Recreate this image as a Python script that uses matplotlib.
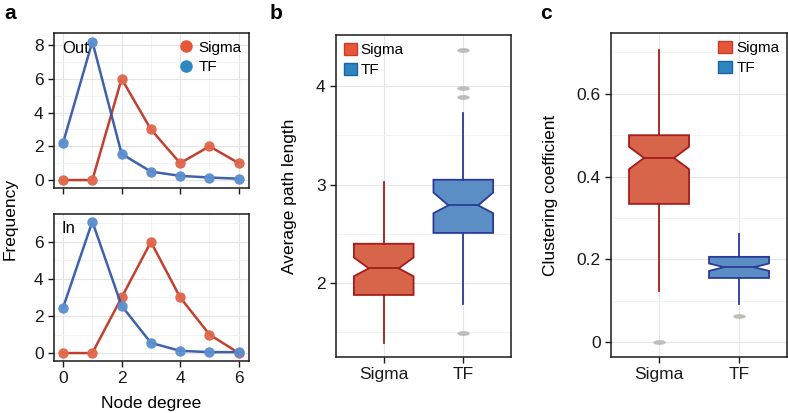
import numpy as np
import matplotlib
matplotlib.use("Agg")
import matplotlib.pyplot as plt
from matplotlib.lines import Line2D
from matplotlib.patches import Patch
from matplotlib.path import Path

# panel a: node degree distributions
degree = [0, 1, 2, 3, 4, 5, 6]
out_sigma = [0, 0, 6, 3, 1, 2, 1]
out_tf = [2.2, 8.2, 1.55, 0.5, 0.25, 0.15, 0.08]
in_sigma = [0, 0, 3, 6, 3, 1, 0]
in_tf = [2.45, 7.1, 2.55, 0.55, 0.12, 0.05, 0.05]

# panels b, c: box summaries (whislo, q1, cilo, med, cihi, q3, whishi, fliers)
groups = ["Sigma", "TF"]
path_sigma = dict(whislo=1.39, q1=1.88, cilo=2.07, med=2.15, cihi=2.26, q3=2.40, whishi=3.03, fliers=[])
path_tf = dict(whislo=1.79, q1=2.51, cilo=2.71, med=2.79, cihi=2.92, q3=3.05, whishi=3.73,
               fliers=[4.37, 3.98, 3.89, 1.49])
clus_sigma = dict(whislo=0.123, q1=0.334, cilo=0.418, med=0.445, cihi=0.472, q3=0.50, whishi=0.706,
                  fliers=[0.0])
clus_tf = dict(whislo=0.092, q1=0.155, cilo=0.172, med=0.181, cihi=0.19, q3=0.206, whishi=0.261,
               fliers=[0.063])

SIG_LINE, SIG_MK = "#bf3626", "#e0674c"
TF_LINE, TF_MK = "#3559a8", "#5b8fd0"
SIG_FILL, SIG_EDGE = "#d6654a", "#a61b1b"
TF_FILL, TF_EDGE = "#5b8ec4", "#2a3a98"

plt.rcParams["font.family"] = ["Liberation Sans", "DejaVu Sans"]
fig = plt.figure(figsize=(7.88, 4.13), dpi=100)

ax_out = fig.add_axes([0.0685, 0.5448, 0.2475, 0.3753])
ax_in = fig.add_axes([0.0685, 0.1259, 0.2475, 0.356])
ax_b = fig.add_axes([0.4264, 0.1356, 0.2221, 0.7797])
ax_c = fig.add_axes([0.7754, 0.1356, 0.2234, 0.7845])


def style(ax):
    for s in ax.spines.values():
        s.set_linewidth(1.1)
        s.set_color("#1a1a1a")
    ax.tick_params(direction="out", length=4, width=1, labelsize=12.5, color="#1a1a1a",
                   labelcolor="#1a1a1a")
    ax.grid(True, which="major", color="#e4e4e4", lw=0.8)
    ax.grid(True, which="minor", color="#f1f1f1", lw=0.6)
    ax.set_axisbelow(True)


def degree_panel(ax, sig, tf, tag):
    ax.plot(degree, sig, color=SIG_LINE, lw=1.8, marker="o", ms=6.5,
            mfc=SIG_MK, mec=SIG_MK, alpha=0.95, zorder=3)
    ax.plot(degree, tf, color=TF_LINE, lw=1.8, marker="o", ms=6.5,
            mfc=TF_MK, mec=TF_MK, alpha=0.95, zorder=3)
    ax.set_xlim(-0.31, 6.35)
    ax.set_xticks([0, 2, 4, 6])
    ax.set_xticks([1, 3, 5], minor=True)
    ax.tick_params(axis="x", which="minor", length=0)
    ax.text(0.04, 0.95, tag, transform=ax.transAxes, ha="left", va="top", fontsize=12)
    style(ax)


degree_panel(ax_out, out_sigma, out_tf, "Out")
ax_out.set_ylim(-0.47, 8.71)
ax_out.set_yticks([0, 2, 4, 6, 8])
ax_out.set_yticks([1, 3, 5, 7], minor=True)
ax_out.tick_params(axis="y", which="minor", length=0)
ax_out.set_xticklabels([])
ax_out.legend(handles=[Line2D([], [], ls="", marker="o", ms=8, mfc="#e8563a", mec="#e8563a", label="Sigma"),
                       Line2D([], [], ls="", marker="o", ms=8, mfc="#2e86c1", mec="#2e86c1", label="TF")],
              loc="upper right", frameon=False, fontsize=11, handletextpad=-0.2,
              borderaxespad=0.2, labelspacing=0.35, borderpad=0.3)

degree_panel(ax_in, in_sigma, in_tf, "In")
ax_in.set_ylim(-0.43, 7.51)
ax_in.set_yticks([0, 2, 4, 6])
ax_in.set_yticks([1, 3, 5, 7], minor=True)
ax_in.tick_params(axis="y", which="minor", length=0)
ax_in.set_xlabel("Node degree", fontsize=12.5, labelpad=7)
fig.text(0.013, 0.47, "Frequency", rotation=90, ha="center", va="center", fontsize=12.5)

# ellipse marker for outliers
t = np.linspace(0, 2 * np.pi, 40)
ellipse = Path(np.column_stack([np.cos(t), 0.38 * np.sin(t)]), closed=True)


def box_panel(ax, stats):
    fills = [(SIG_FILL, SIG_EDGE), (TF_FILL, TF_EDGE)]
    for i, (st, (fc, ec)) in enumerate(zip(stats, fills)):
        ax.bxp([st], positions=[i + 1], widths=0.75, shownotches=True, patch_artist=True,
               showcaps=False,
               boxprops=dict(facecolor=fc, edgecolor=ec, lw=1.3),
               medianprops=dict(color=ec, lw=1.3),
               whiskerprops=dict(color=ec, lw=1.3),
               flierprops=dict(marker=ellipse, ms=9, mfc="#bdbdbd", mec="none"))
    ax.set_xlim(0.4, 2.6)
    ax.set_xticks([1, 2])
    ax.set_xticklabels(groups)
    style(ax)


box_panel(ax_b, [path_sigma, path_tf])
ax_b.set_ylim(1.25, 4.52)
ax_b.set_yticks([2, 3, 4])
ax_b.set_yticks([1.5, 2.5, 3.5], minor=True)
ax_b.tick_params(axis="y", which="minor", length=0)
ax_b.set_ylabel("Average path length", fontsize=12.5, labelpad=14)
ax_b.legend(handles=[Patch(facecolor="#e8563a", edgecolor="#c0402a", label="Sigma"),
                     Patch(facecolor="#2e86c1", edgecolor="#2060a0", label="TF")],
            loc="upper left", frameon=False, fontsize=11, handlelength=0.9, handleheight=0.9,
            handletextpad=0.2, borderaxespad=0.2, labelspacing=0.35, borderpad=0.3)

box_panel(ax_c, [clus_sigma, clus_tf])
ax_c.set_ylim(-0.036, 0.747)
ax_c.set_yticks([0, 0.2, 0.4, 0.6])
ax_c.set_yticklabels(["0", "0.2", "0.4", "0.6"])
ax_c.set_yticks([0.1, 0.3, 0.5, 0.7], minor=True)
ax_c.tick_params(axis="y", which="minor", length=0)
ax_c.set_ylabel("Clustering coefficient", fontsize=12.5, labelpad=13)
ax_c.legend(handles=[Patch(facecolor="#e8563a", edgecolor="#c0402a", label="Sigma"),
                     Patch(facecolor="#2e86c1", edgecolor="#2060a0", label="TF")],
            loc="upper right", frameon=False, fontsize=11, handlelength=0.9, handleheight=0.9,
            handletextpad=0.3, borderaxespad=0.2, labelspacing=0.35, borderpad=0.3)

for x, lab in [(0.006, "a"), (0.342, "b"), (0.685, "c")]:
    fig.text(x, 0.99, lab, ha="left", va="top", fontsize=15, fontweight="bold")

fig.savefig("out.png", dpi=100)
